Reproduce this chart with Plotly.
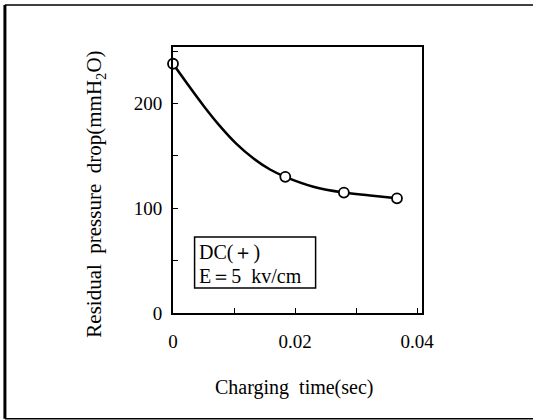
import plotly.graph_objects as go

charging_time = [0.0, 0.0184, 0.0280, 0.0367]
pressure_drop = [238, 130, 115, 109.5]

# Points
curve_time = [0.0, 0.0050, 0.0077, 0.0104, 0.0132, 0.0159, 0.0184,
              0.0230, 0.0280, 0.0323, 0.0367]
curve_drop = [238, 198, 178.5, 161.5, 147.5, 137, 130, 120.6, 115, 112.3, 109.5]

x_ticks = [0, 0.02, 0.04]
x_ticklabels = ["0", "0.02", "0.04"]
y_ticks = [0, 100, 200]
y_ticklabels = ["0", "100", "200"]

legend_lines = ["DC(＋)", "E＝5  kv/cm"]

FONT = "'Liberation Serif', 'Times New Roman', 'DejaVu Serif', serif"

fig = go.Figure()
fig.add_trace(go.Scatter(
    x=curve_time, y=curve_drop, mode="lines",
    line=dict(color="black", width=2.5, shape="spline", smoothing=1.1),
    showlegend=False, hoverinfo="skip",
))
fig.add_trace(go.Scatter(
    x=charging_time, y=pressure_drop,
    mode="markers",
    marker=dict(symbol="circle", size=10, color="white",
                line=dict(color="black", width=1.8)),
    showlegend=False, cliponaxis=False,
))

fig.update_layout(
    width=533, height=420,
    margin=dict(l=173, r=111, t=47, b=107),
    paper_bgcolor="white", plot_bgcolor="white",
    font=dict(family=FONT, color="black", size=17),
    xaxis=dict(
        range=[0, 0.0408], showgrid=False, zeroline=False,
        showline=True, linecolor="black", linewidth=2, mirror=True,
        tickmode="array", tickvals=x_ticks, ticktext=x_ticklabels,
        ticks="inside", ticklen=5, tickwidth=1.2, tickcolor="black",
        minor=dict(tickmode="array", tickvals=[0.01, 0.03], ticks="inside",
                   ticklen=5, tickwidth=1.2, tickcolor="black"),
        ticklabelstandoff=10,
        tickfont=dict(family=FONT, size=19),
    ),
    yaxis=dict(
        range=[0, 254], showgrid=False, zeroline=False,
        showline=True, linecolor="black", linewidth=2, mirror=True,
        tickmode="array", tickvals=y_ticks, ticktext=y_ticklabels,
        ticks="inside", ticklen=5, tickwidth=1.2, tickcolor="black",
        minor=dict(tickmode="array", tickvals=[50, 150, 250], ticks="inside",
                   ticklen=5, tickwidth=1.2, tickcolor="black"),
        ticklabelstandoff=5,
        tickfont=dict(family=FONT, size=19),
    ),
    annotations=[
        dict(text="Charging  time(sec)", xref="paper", yref="paper",
             x=0.484, y=-0.28, xanchor="center", yanchor="middle",
             showarrow=False, font=dict(family=FONT, size=20)),
        dict(text="Residual  pressure  drop(mmH<sub>2</sub>O)",
             xref="paper", yref="paper", x=-0.313, y=0.445,
             xanchor="center", yanchor="middle", textangle=-90,
             showarrow=False, font=dict(family=FONT, size=21)),
        dict(text=legend_lines[0], xref="paper", yref="paper",
             x=0.0964, y=0.2256, xanchor="left", yanchor="middle",
             showarrow=False, font=dict(family=FONT, size=20)),
        dict(text=legend_lines[1], xref="paper", yref="paper",
             x=0.0964, y=0.139, xanchor="left", yanchor="middle",
             showarrow=False, font=dict(family=FONT, size=20)),
    ],
    shapes=[
        dict(type="rect", xref="paper", yref="paper",
             x0=0.0867, x1=0.5727, y0=0.094, y1=0.2857,
             line=dict(color="black", width=1.5), layer="below"),
        dict(type="line", xref="paper", yref="paper",
             x0=-0.675, x1=-0.675, y0=-0.398, y1=1.158,
             line=dict(color="black", width=3)),
        dict(type="line", xref="paper", yref="paper",
             x0=-0.675, x1=1.5, y0=1.158, y1=1.158,
             line=dict(color="black", width=1.5)),
        dict(type="line", xref="paper", yref="paper",
             x0=-0.675, x1=1.5, y0=-0.398, y1=-0.398,
             line=dict(color="black", width=1.5)),
    ],
)

fig.write_html("out.html")
